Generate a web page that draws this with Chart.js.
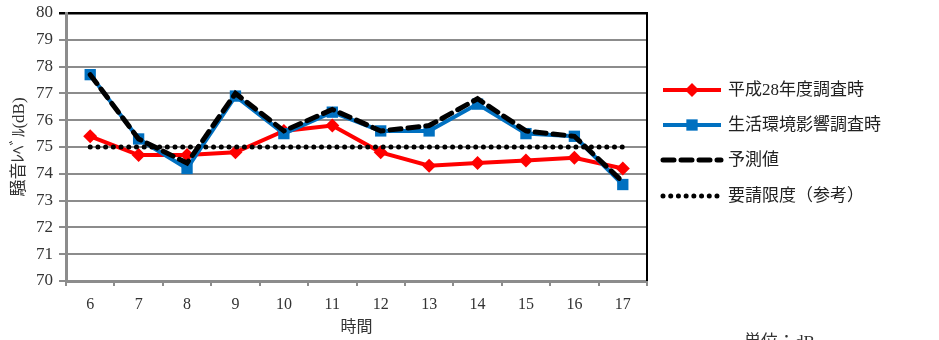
<!DOCTYPE html>
<html>
<head>
<meta charset="utf-8">
<script src="https://cdn.jsdelivr.net/npm/chart.js@4/dist/chart.umd.min.js"></script>
<style>
  html, body { margin: 0; padding: 0; background: #fff; }
  #wrap { width: 939px; height: 340px; position: relative; }
</style>
</head>
<body>
<div id="wrap"><canvas id="c" width="939" height="340"></canvas></div>
<script>
// Hourly noise levels (dB)
const hours = ['6', '7', '8', '9', '10', '11', '12', '13', '14', '15', '16', '17'];
const survey2016 = [75.4, 74.7, 74.7, 74.8, 75.6, 75.8, 74.8, 74.3, 74.4, 74.5, 74.6, 74.2];
const envSurvey = [77.7, 75.3, 74.2, 76.9, 75.5, 76.3, 75.6, 75.6, 76.6, 75.5, 75.4, 73.6];
const predicted = [77.7, 75.3, 74.4, 77.0, 75.6, 76.4, 75.6, 75.8, 76.8, 75.6, 75.4, 73.7];
const requestLimit = [75, 75, 75, 75, 75, 75, 75, 75, 75, 75, 75, 75];
const yMin = 70, yMax = 80, yStep = 1;

const seriesNames = ['平成28年度調査時', '生活環境影響調査時', '予測値', '要請限度（参考）'];
const yTitle = '騒音ﾚﾍﾞﾙ(dB)';
const xTitle = '時間';
const unitNote = '単位：dB';

const FONT = '"Liberation Serif", "Noto Sans CJK JP", serif';
const RED = '#ff0000';
const BLUE = '#0070c0';

// Titles, plot frame and the legend are drawn by hand on the canvas
const decorations = {
  id: 'decorations',
  afterDatasetsDraw(chart) {
    const { ctx, chartArea: a } = chart;
    ctx.save();
    // right frame edge
    ctx.strokeStyle = '#000';
    ctx.lineWidth = 2;
    ctx.beginPath();
    ctx.moveTo(a.right, a.top - 1);
    ctx.lineTo(a.right, a.bottom);
    ctx.stroke();
    ctx.restore();
  },
  afterDraw(chart) {
    const { ctx, chartArea: a } = chart;
    ctx.save();
    ctx.fillStyle = '#333';
    // y axis title
    ctx.save();
    ctx.translate(20, (a.top + a.bottom) / 2);
    ctx.rotate(-Math.PI / 2);
    ctx.font = '17px ' + FONT;
    ctx.textAlign = 'center';
    ctx.textBaseline = 'middle';
    ctx.fillText(yTitle, 0, 0);
    ctx.restore();
    // x axis title
    ctx.font = '16px ' + FONT;
    ctx.textAlign = 'center';
    ctx.textBaseline = 'middle';
    ctx.fillText(xTitle, (a.left + a.right) / 2, 328);
    // unit note at the bottom edge
    ctx.font = '17px ' + FONT;
    ctx.textAlign = 'left';
    ctx.textBaseline = 'top';
    ctx.fillText(unitNote, 744, 334);

    // legend
    const rows = [90, 125, 160, 196];
    const x0 = 663, x1 = 721, xm = (x0 + x1) / 2;
    chart.data.datasets.forEach((ds, i) => {
      const y = rows[i];
      ctx.save();
      ctx.strokeStyle = ds.borderColor;
      ctx.lineWidth = ds.borderWidth;
      ctx.lineCap = ds.borderCapStyle || 'butt';
      ctx.setLineDash(ds.borderDash || []);
      ctx.beginPath();
      ctx.moveTo(x0, y);
      ctx.lineTo(x1, y);
      ctx.stroke();
      ctx.restore();
      if (ds.pointRadius > 0) {
        ctx.fillStyle = ds.pointBackgroundColor;
        ctx.beginPath();
        drawMarker(ctx, ds.pointStyle, ds.pointRadius, xm, y);
        ctx.fill();
      }
      ctx.fillStyle = '#222';
      ctx.font = '17px ' + FONT;
      ctx.textAlign = 'left';
      ctx.textBaseline = 'middle';
      ctx.fillText(ds.label, 728, y + 1);
    });
    ctx.restore();
  }
};

function drawMarker(ctx, style, r, x, y) {
  if (style === 'rectRot') {
    ctx.moveTo(x, y - r);
    ctx.lineTo(x + r, y);
    ctx.lineTo(x, y + r);
    ctx.lineTo(x - r, y);
    ctx.closePath();
  } else {
    const s = r * Math.SQRT1_2;
    ctx.rect(x - s, y - s, 2 * s, 2 * s);
  }
}

new Chart(document.getElementById('c'), {
  type: 'line',
  data: {
    labels: hours,
    datasets: [
      {
        label: seriesNames[0], data: survey2016, order: 4,
        borderColor: RED, backgroundColor: RED, borderWidth: 4,
        pointStyle: 'rectRot', pointRadius: 7,
        pointBackgroundColor: RED, pointBorderColor: RED, pointBorderWidth: 0,
        tension: 0
      },
      {
        label: seriesNames[1], data: envSurvey, order: 3,
        borderColor: BLUE, backgroundColor: BLUE, borderWidth: 4,
        pointStyle: 'rect', pointRadius: 8,
        pointBackgroundColor: BLUE, pointBorderColor: BLUE, pointBorderWidth: 0,
        tension: 0
      },
      {
        label: seriesNames[2], data: predicted, order: 2,
        borderColor: '#000', backgroundColor: '#000', borderWidth: 5,
        borderDash: [11, 7], borderCapStyle: 'round',
        pointRadius: 0, tension: 0
      },
      {
        label: seriesNames[3], data: requestLimit, order: 1,
        borderColor: '#000', backgroundColor: '#000', borderWidth: 5,
        borderDash: [0.01, 7.7], borderCapStyle: 'round',
        pointRadius: 0, tension: 0
      }
    ]
  },
  options: {
    responsive: false,
    animation: false,
    events: [],
    layout: { padding: { top: 13, right: 292, left: 0, bottom: 0 } },
    plugins: { legend: { display: false }, tooltip: { enabled: false } },
    scales: {
      x: {
        type: 'category',
        offset: true,
        afterFit(s) { s.height = 59; },
        grid: {
          offset: true, drawOnChartArea: false, drawTicks: true,
          tickLength: 5, color: '#8c8c8c', lineWidth: 2
        },
        border: { display: true, color: '#8c8c8c', width: 3 },
        ticks: {
          color: '#333', padding: 9,
          font: { family: FONT, size: 16 }
        }
      },
      y: {
        min: yMin, max: yMax,
        afterFit(s) { s.width = 66; s.paddingTop = 0; s.paddingBottom = 0; },
        grid: {
          color: (c) => (c.tick && c.tick.value === yMax ? '#000' : '#8c8c8c'),
          lineWidth: (c) => (c.tick && c.tick.value === yMax ? 2.5 : 2),
          tickLength: 7, drawTicks: true
        },
        border: { display: true, color: '#8c8c8c', width: 3 },
        ticks: {
          stepSize: yStep, color: '#333', padding: 6,
          font: { family: FONT, size: 17 }
        }
      }
    }
  },
  plugins: [decorations]
});
</script>
</body>
</html>
